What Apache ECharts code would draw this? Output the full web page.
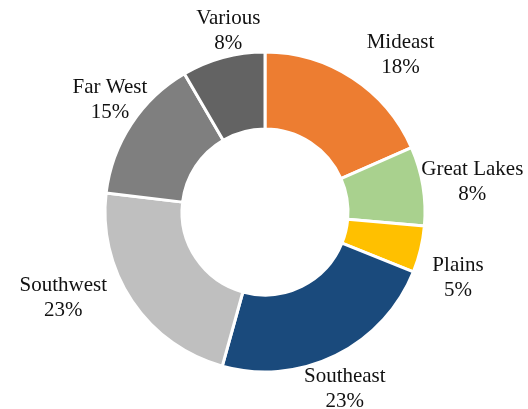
<!DOCTYPE html>
<html>
<head>
<meta charset="utf-8">
<script src="https://cdn.jsdelivr.net/npm/echarts@6/dist/echarts.min.js"></script>
<style>html,body{margin:0;padding:0;background:#fff}#c{width:528px;height:409px}</style>
</head>
<body>
<div id="c"></div>
<script>
const regions = ['Mideast', 'Great Lakes', 'Plains', 'Southeast', 'Southwest', 'Far West', 'Various'];
const shares = [18.4, 8.0, 4.7, 23.2, 22.6, 14.7, 8.4];
const colors = ['#ED7D31', '#A9D18E', '#FFC000', '#1A4A7C', '#BFBFBF', '#7F7F7F', '#636363'];
// small label nudges (px) on top of the computed outside placement
const labelNudgeX = [17, -8, 10, 7, -15, 9, 0];
const labelNudgeY = [0, -10, 8, -1, -21, 13, 6];

const CX = 265, CY = 212, R_OUT = 160, R_IN = 83;
const total = shares.reduce((a, b) => a + b, 0);
function midAngle(i) {
  let cum = 0;
  for (let k = 0; k < i; k++) cum += shares[k];
  return ((cum + shares[i] / 2) / total) * 360;
}

const chart = echarts.init(document.getElementById('c'), null, {renderer: 'canvas'});
chart.setOption({
  animation: false,
  backgroundColor: '#fff',
  series: [{
    type: 'pie',
    center: [CX, CY],
    radius: [R_IN, R_OUT],
    startAngle: 90,
    clockwise: true,
    avoidLabelOverlap: false,
    itemStyle: {borderColor: '#fff', borderWidth: 3},
    label: {
      show: true,
      position: 'outside',
      fontFamily: 'Liberation Serif',
      fontSize: 21,
      lineHeight: 25,
      color: '#111',
      formatter: p => p.name + '\n' + Math.round(p.percent) + '%'
    },
    labelLine: {show: false, length: 5, length2: 0},
    labelLayout: function (params) {
      const i = params.dataIndex;
      const th = (midAngle(i) + 4) * Math.PI / 180;
      const s = Math.sin(th), c = Math.cos(th);
      const hw = params.labelRect.width / 2, hh = params.labelRect.height / 2;
      const t = Math.min(Math.abs(s) > 1e-6 ? hw / Math.abs(s) : 1e9, Math.abs(c) > 1e-6 ? hh / Math.abs(c) : 1e9);
      const d = R_OUT + 5 + t;
      return {x: CX + d * s + labelNudgeX[i], y: CY - d * c + labelNudgeY[i], align: 'center', verticalAlign: 'middle'};
    },
    data: regions.map((n, i) => ({name: n, value: shares[i], itemStyle: {color: colors[i]}}))
  }]
});
</script>
</body>
</html>
